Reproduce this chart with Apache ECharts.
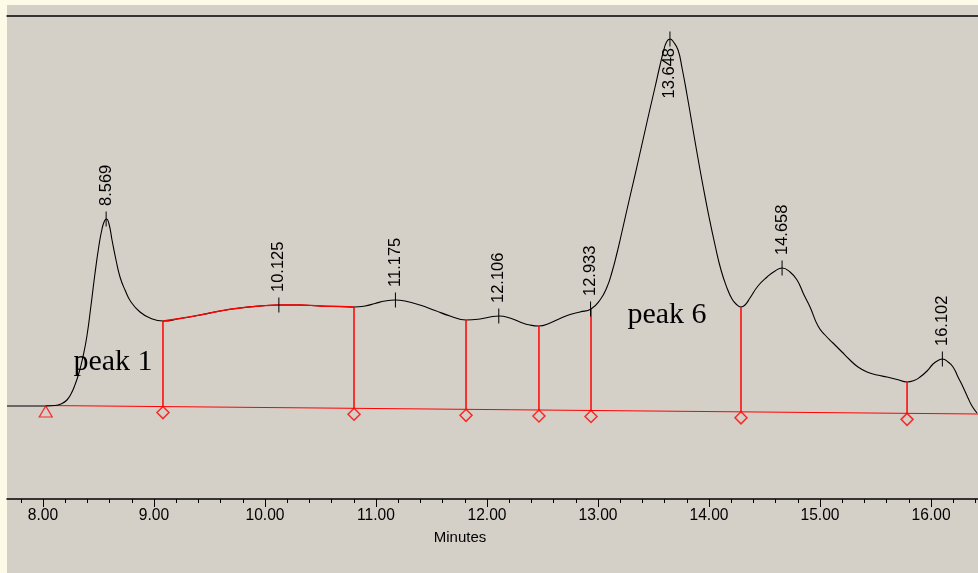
<!DOCTYPE html>
<html><head><meta charset="utf-8">
<script src="https://cdn.jsdelivr.net/npm/echarts@6/dist/echarts.min.js"></script>
<style>html,body{margin:0;padding:0;background:#d4d0c8}#c{width:978px;height:573px}</style>
</head><body><div id="c"></div>
<script>
// Chromatogram trace: [minutes, signal]
const curve = [
 [7.676,0],[7.973,0],[8.108,0.5],[8.171,2.5],[8.216,6],[8.252,12],[8.288,21],[8.324,33],[8.360,49],[8.396,70],
 [8.432,100],[8.468,132],[8.505,161],[8.532,177],[8.554,185],[8.572,187],[8.595,182],[8.622,166],[8.658,146],
 [8.694,129],[8.739,116],[8.793,104],[8.874,94],[8.964,88],[9.081,85],
 [9.234,87.5],[9.414,91],[9.595,95],[9.775,98],[9.955,100],[10.126,101],[10.315,101],[10.495,100],[10.676,99.5],[10.802,99],
 [10.901,100],[10.991,102.5],[11.081,105],[11.171,106],[11.261,105],[11.396,101],[11.532,95.5],[11.667,90],[11.811,86],
 [11.937,87],[12.027,89],[12.108,90],[12.207,88],[12.297,84],[12.387,81],[12.468,80],[12.568,83],[12.658,87.5],
 [12.748,91.5],[12.838,94],[12.937,97],
 [13.018,106],[13.081,119],[13.126,134],[13.171,153],[13.207,170],[13.252,192],[13.306,218],[13.360,244],[13.423,275],
 [13.468,297],[13.514,319],[13.559,341],[13.586,353],[13.617,364],[13.649,367],[13.680,364],[13.721,356],[13.757,338],
 [13.802,311],[13.847,282],[13.892,253],[13.946,220],[14.000,189],[14.054,161],[14.108,136],[14.162,118],[14.207,107],
 [14.243,102],[14.288,99],[14.324,101],[14.369,108],[14.441,120],[14.523,129],[14.595,135],[14.658,138],[14.730,134],
 [14.793,126],[14.856,111],[14.910,99],[14.982,80],[15.045,71],[15.117,63],[15.198,54],[15.270,46],[15.342,39],
 [15.423,34],[15.514,31],[15.604,29],[15.694,26.5],[15.784,24],[15.847,25.5],[15.901,29],[15.964,35],[16.018,42],
 [16.063,45.5],[16.104,47],[16.153,44],[16.198,39],[16.243,29],[16.288,19],[16.333,8],[16.369,0],[16.414,-7]
];
const baseline = [[8.025,0.5],[16.423,-8]];
const dropTimes = [9.081,10.802,11.811,12.468,12.937,14.288,15.784];
const dropTops  = [85,99,86,80,97,99,24];
const peakTimes  = [8.569,10.125,11.175,12.106,12.933,13.648,14.658,16.102];
const peakValues = [187,101,106,90,97,367,138,47];
const peakLabels = ['8.569','10.125','11.175','12.106','12.933','13.648','14.658','16.102'];
const highlightRange = [9.081,10.802];
const majorTicks = [8,9,10,11,12,13,14,15,16];
const majorLabels = ['8.00','9.00','10.00','11.00','12.00','13.00','14.00','15.00','16.00'];
const minorTicks = [7.8,8.2,8.4,8.6,8.8,9.2,9.4,9.6,9.8,10.2,10.4,10.6,10.8,11.2,11.4,11.6,11.8,
 12.2,12.4,12.6,12.8,13.2,13.4,13.6,13.8,14.2,14.4,14.6,14.8,15.2,15.4,15.6,15.8,16.2,16.4];
const xMin = 7.676, xMax = 16.423, yMin = -93, yMax = 390;

const RED = '#ff0000';
function baseAt(t){
  const [a,b] = baseline;
  return a[1] + (b[1]-a[1])*(t-a[0])/(b[0]-a[0]);
}
const chart = echarts.init(document.getElementById('c'));
const axisCommon = {type:'value', min:xMin, max:xMax, splitLine:{show:false}};
chart.setOption({
  animation:false,
  backgroundColor:'#d4d0c8',
  grid:{left:7, right:0, top:16, bottom:74},
  xAxis:[
    Object.assign({}, axisCommon, {
      position:'bottom',
      axisLine:{show:true, onZero:false, lineStyle:{color:'#000', width:1.5}},
      axisTick:{show:true, customValues:majorTicks, length:8, inside:false, lineStyle:{color:'#000'}},
      axisLabel:{show:true, customValues:majorTicks, margin:9, color:'#000', fontSize:15.6,
        fontFamily:'"Liberation Sans", Arial, sans-serif',
        formatter:(v)=>{const i = majorTicks.indexOf(Math.round(v)); return i>=0?majorLabels[i]:'';}}
    }),
    Object.assign({}, axisCommon, {
      position:'bottom',
      axisLine:{show:false, onZero:false},
      axisTick:{show:true, customValues:minorTicks, length:4, lineStyle:{color:'#000'}},
      axisLabel:{show:false}
    }),
    Object.assign({}, axisCommon, {
      position:'top',
      axisLine:{show:true, onZero:false, lineStyle:{color:'#000', width:1.5}},
      axisTick:{show:false}, axisLabel:{show:false}
    })
  ],
  yAxis:{type:'value', min:yMin, max:yMax, show:false, splitLine:{show:false}},
  series:[
    {type:'line', data:baseline, symbol:'none', lineStyle:{color:RED, width:1}, z:2},
    {type:'line', data:curve, symbol:'none', smooth:0.5,
      lineStyle:{color:'#000', width:1.1}, z:3},
    {type:'line', data:curve.filter(p=>p[0]>=highlightRange[0]&&p[0]<=highlightRange[1]),
      symbol:'none', smooth:0.5, lineStyle:{color:RED, width:1.3}, z:4},
    {type:'custom', z:5,
      data:dropTimes.map((t,i)=>[t, dropTops[i], baseAt(t)]),
      renderItem:(params, api)=>{
        const p1 = api.coord([api.value(0), api.value(1)]);
        const p2 = api.coord([api.value(0), api.value(2)]);
        return {type:'line', shape:{x1:p1[0], y1:p1[1], x2:p2[0], y2:p2[1]},
          style:{stroke:RED, lineWidth:1.5}};
      }},
    {type:'scatter', z:6, data:dropTimes.map(t=>[t, baseAt(t)]),
      symbol:'diamond', symbolSize:[12,12], symbolOffset:[0,6],
      itemStyle:{color:'rgba(0,0,0,0)', borderColor:RED, borderWidth:1.5}},
    {type:'scatter', z:6, data:[[baseline[0][0], baseline[0][1]]],
      symbol:'triangle', symbolSize:[13,11], symbolOffset:[0,6],
      itemStyle:{color:'rgba(0,0,0,0)', borderColor:RED, borderWidth:1.2}},
    {type:'custom', z:7,
      data:peakTimes.map((t,i)=>[t, peakValues[i]]),
      renderItem:(params, api)=>{
        const p = api.coord([api.value(0), api.value(1)]);
        const txt = peakLabels[params.dataIndex];
        const below = (p[1] - 13 - 55) < 16;
        return {type:'group', children:[
          {type:'line', shape:{x1:p[0], y1:p[1]-7.5, x2:p[0], y2:p[1]+7.5}, style:{stroke:'#000', lineWidth:1}},
          {type:'text', x:p[0], y: below ? p[1]+9 : p[1]-13, rotation:Math.PI/2,
            style:{text:txt, fill:'#000', font:'16.5px "Liberation Sans", Arial, sans-serif',
              align: below ? 'right' : 'left', verticalAlign:'middle'}}
        ]};
      }}
  ],
  graphic:[
    {type:'rect', left:0, top:0, shape:{width:7, height:573}, style:{fill:'#fdfbe8'}},
    {type:'rect', left:0, top:0, shape:{width:978, height:5}, style:{fill:'#fdfbe8'}},
    {type:'text', x:113, y:362, style:{text:'peak 1', fill:'#000', font:'30px "Liberation Serif", "Times New Roman", serif', align:'center', verticalAlign:'middle'}},
    {type:'text', x:667, y:315, style:{text:'peak 6', fill:'#000', font:'30px "Liberation Serif", "Times New Roman", serif', align:'center', verticalAlign:'middle'}},
    {type:'text', x:460, y:538, style:{text:'Minutes', fill:'#000', font:'15px "Liberation Sans", Arial, sans-serif', align:'center', verticalAlign:'middle'}}
  ]
});
</script></body></html>
